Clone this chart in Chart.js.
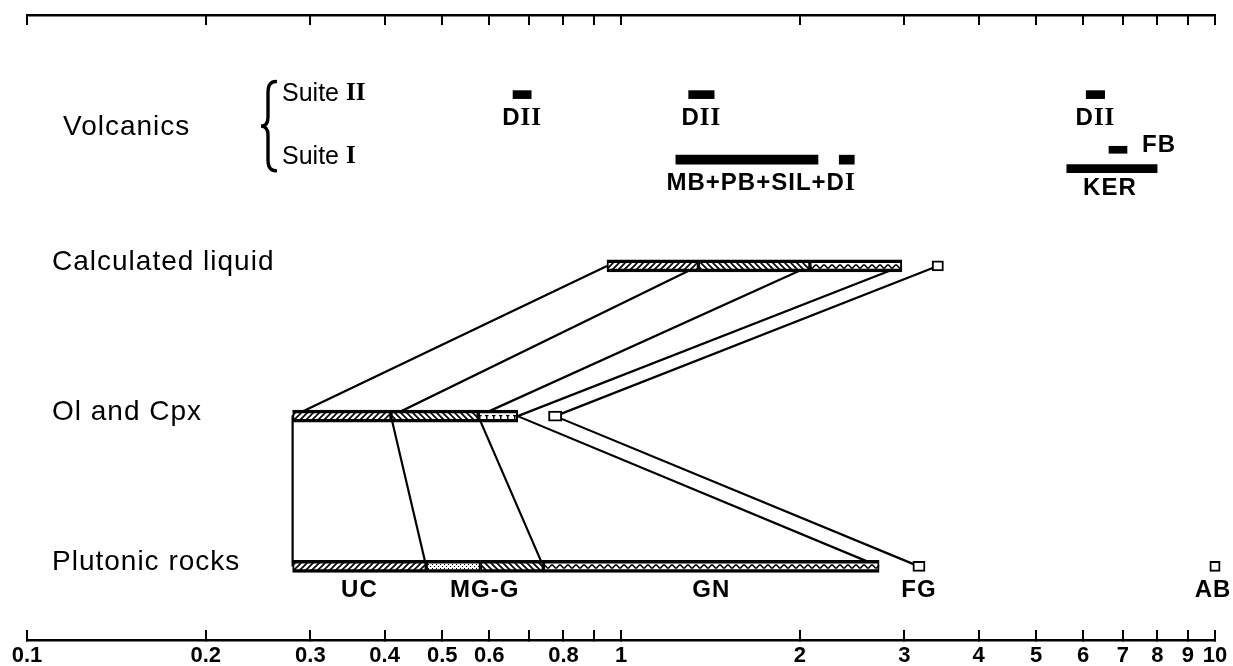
<!DOCTYPE html>
<html>
<head>
<meta charset="utf-8">
<script src="https://cdn.jsdelivr.net/npm/chart.js@4.4.0/dist/chart.umd.min.js"></script>
<style>
  html, body { margin: 0; padding: 0; background: #fff; }
</style>
</head>
<body>
<canvas id="myChart" width="1233" height="666"></canvas>
<script>
// log axis ticks
const tickValues = [0.1, 0.2, 0.3, 0.4, 0.5, 0.6, 0.7, 0.8, 0.9, 1, 2, 3, 4, 5, 6, 7, 8, 9, 10];
const tickLabels = [0.1, 0.2, 0.3, 0.4, 0.5, 0.6, 0.8, 1, 2, 3, 4, 5, 6, 7, 8, 9, 10];

// rows (hidden y scale)
const rowNames = ['Plutonic rocks', 'Ol and Cpx', 'Calculated liquid'];
const rowLevels = [0, 1, 2];
const suiteLevels = [2.707, 3.14];   // Suite I, Suite II
const fbLevel = 2.773;
const kerLevel = 2.647;

// composite bars: segment edges and fills
const liquidEdges = [0.947, 1.35, 2.08, 2.97];
const liquidFills = ['fwd', 'back', 'wave'];
const olcpxEdges = [0.28, 0.41, 0.575, 0.67];
const olcpxFills = ['fwd', 'back', 'dots'];
const plutonicEdges = [0.28, 0.47, 0.58, 0.74, 2.72];
const plutonicFills = ['fwd', 'stip', 'back', 'wave'];
const plutonicLinkIdx = [0, 1, 3, 4];
const plutonicNames = ['UC', 'MG-G', 'GN'];

// open squares
const liquidBox = [3.34, 3.49];
const olcpxBox = [0.755, 0.795];
const fgBox = [3.10, 3.25];
const abBox = [9.8, 10.2];

// volcanics
const suite2Bars = [[0.658, 0.706], [1.30, 1.435], [6.07, 6.52]];
const suite1Bars = [[1.237, 2.146], [2.33, 2.47]];
const fbBar = [6.63, 7.11];
const kerBar = [5.63, 7.99];

const sans = '"Liberation Sans", Arial, sans-serif';
const serif = '"Liberation Serif", "Times New Roman", serif';
const rowFont = '28px ' + sans;
const suiteFont = '25px ' + sans;
const labFont = 'bold 24px ' + sans;
const romFont = 'bold 25px ' + serif;

function makePattern(kind) {
  const c = document.createElement('canvas');
  const g = c.getContext('2d');
  const w = kind === 'wave' ? 8 : (kind === 'dots' ? 7 : (kind === 'stip' ? 4 : 6));
  const h = kind === 'stip' ? 4 : 6;
  c.width = w; c.height = h;
  g.fillStyle = '#fff';
  g.fillRect(0, 0, w, h);
  g.strokeStyle = '#000';
  g.fillStyle = '#000';
  g.lineWidth = 1.6;
  if (kind === 'fwd') {
    g.beginPath();
    g.moveTo(0, 6); g.lineTo(6, 0);
    g.moveTo(-1, 1); g.lineTo(1, -1);
    g.moveTo(5, 7); g.lineTo(7, 5);
    g.stroke();
  } else if (kind === 'back') {
    g.beginPath();
    g.moveTo(0, 0); g.lineTo(6, 6);
    g.moveTo(5, -1); g.lineTo(7, 1);
    g.moveTo(-1, 5); g.lineTo(1, 7);
    g.stroke();
  } else if (kind === 'wave') {
    g.lineWidth = 1.5;
    g.beginPath();
    for (let i = 0; i <= 16; i++) {
      const xx = i / 2;
      const yy = 2.5 - 1.6 * Math.cos(2 * Math.PI * xx / 8);
      if (i === 0) g.moveTo(xx, yy); else g.lineTo(xx, yy);
    }
    g.stroke();
  } else if (kind === 'dots') {
    g.fillRect(3, 1, 1.5, 4);
    g.fillRect(2, 1, 3.5, 1.2);
  } else if (kind === 'stip') {
    g.fillRect(0, 0, 1, 1);
    g.fillRect(2, 2, 1, 1);
  }
  return g.createPattern(c, 'repeat');
}
const patterns = {};
['fwd', 'back', 'wave', 'dots', 'stip'].forEach(k => { patterns[k] = makePattern(k); });

function segments(edges, level) {
  return edges.slice(0, -1).map((v, i) => ({ x: [v, edges[i + 1]], y: level }));
}

const stripStyle = {
  type: 'bar', indexAxis: 'y', grouped: false, barThickness: 12,
  borderColor: '#000', borderWidth: { top: 3.5, bottom: 3.5, left: 2, right: 2 },
  borderSkipped: false, order: 1
};
const solidStyle = {
  type: 'bar', indexAxis: 'y', grouped: false, backgroundColor: '#000',
  borderWidth: 0, order: 1
};

// connector lines between rows
const gmean = b => Math.sqrt(b[0] * b[1]);
const links = liquidEdges.map((v, i) => [
  { x: v, y: rowLevels[2] },
  { x: olcpxEdges[i], y: rowLevels[1] },
  { x: plutonicEdges[plutonicLinkIdx[i]], y: rowLevels[0] }
]);
links.push([
  { x: gmean(liquidBox), y: rowLevels[2] },
  { x: gmean(olcpxBox), y: rowLevels[1] },
  { x: gmean(fgBox), y: rowLevels[0] }
]);

const datasets = [];
links.forEach(pts => datasets.push({
  type: 'line', indexAxis: 'x', data: pts, borderColor: '#000', borderWidth: 2.2,
  pointRadius: 0, tension: 0, fill: false, order: 2
}));
datasets.push(Object.assign({}, stripStyle, {
  data: segments(liquidEdges, rowLevels[2]), backgroundColor: liquidFills.map(f => patterns[f])
}));
datasets.push(Object.assign({}, stripStyle, {
  data: segments(olcpxEdges, rowLevels[1]), backgroundColor: olcpxFills.map(f => patterns[f])
}));
datasets.push(Object.assign({}, stripStyle, {
  data: segments(plutonicEdges, rowLevels[0]), backgroundColor: plutonicFills.map(f => patterns[f])
}));
datasets.push(Object.assign({}, stripStyle, {
  barThickness: 10, borderWidth: 2, backgroundColor: '#fff', clip: false,
  data: [
    { x: liquidBox, y: rowLevels[2] },
    { x: olcpxBox, y: rowLevels[1] },
    { x: fgBox, y: rowLevels[0] },
    { x: abBox, y: rowLevels[0] }
  ]
}));
datasets.push(Object.assign({}, solidStyle, {
  barThickness: 8, data: suite2Bars.map(b => ({ x: b, y: suiteLevels[1] }))
}));
datasets.push(Object.assign({}, solidStyle, {
  barThickness: 9, data: suite1Bars.map(b => ({ x: b, y: suiteLevels[0] }))
}));
datasets.push(Object.assign({}, solidStyle, {
  barThickness: 7, data: [{ x: fbBar, y: fbLevel }]
}));
datasets.push(Object.assign({}, solidStyle, {
  barThickness: 8, data: [{ x: kerBar, y: kerLevel }]
}));

function drawParts(ctx, parts, x, y, align) {
  let w = 0;
  parts.forEach(p => { ctx.font = p[1]; w += ctx.measureText(p[0]).width; });
  let cx = align === 'center' ? x - w / 2 : (align === 'right' ? x - w : x);
  parts.forEach(p => {
    ctx.font = p[1];
    ctx.fillText(p[0], cx, y);
    cx += ctx.measureText(p[0]).width;
  });
}

const labelPlugin = {
  id: 'labels',
  afterDraw(chart) {
    const ctx = chart.ctx;
    const area = chart.chartArea;
    const xs = chart.scales.x, ys = chart.scales.y;
    const px = v => xs.getPixelForValue(v);
    const py = v => ys.getPixelForValue(v);
    const mid = (a, b) => (px(a) + px(b)) / 2;
    ctx.save();
    ctx.fillStyle = '#000';
    ctx.strokeStyle = '#000';
    ctx.textAlign = 'left';
    ctx.textBaseline = 'middle';

    ctx.letterSpacing = '1px';
    rowNames.forEach((n, i) => drawParts(ctx, [[n, rowFont]], area.left + 25, py(rowLevels[i]) - 4, 'left'));
    const vy = (py(suiteLevels[0]) + py(suiteLevels[1])) / 2;
    drawParts(ctx, [['Volcanics', rowFont]], area.left + 36, vy, 'left');

    // brace
    const bx = 268, top = py(suiteLevels[1]) - 14, bot = py(suiteLevels[0]) + 12, my = (top + bot) / 2;
    ctx.lineWidth = 3.4;
    ctx.beginPath();
    ctx.moveTo(bx + 9, top + 1);
    ctx.quadraticCurveTo(bx, top, bx, top + 12);
    ctx.lineTo(bx, my - 9);
    ctx.quadraticCurveTo(bx, my, bx - 7, my);
    ctx.quadraticCurveTo(bx, my, bx, my + 9);
    ctx.lineTo(bx, bot - 12);
    ctx.quadraticCurveTo(bx, bot, bx + 9, bot - 1);
    ctx.stroke();

    ctx.letterSpacing = '0px';
    drawParts(ctx, [['Suite ', suiteFont], ['II', romFont]], 282, py(suiteLevels[1]) - 1, 'left');
    drawParts(ctx, [['Suite ', suiteFont], ['I', romFont]], 282, py(suiteLevels[0]) - 3, 'left');

    ctx.letterSpacing = '1px';
    suite2Bars.forEach(b => drawParts(ctx, [['D', labFont], ['II', romFont]], mid(b[0], b[1]), py(suiteLevels[1]) + 24, 'center'));
    const s1c = (px(suite1Bars[0][0]) + px(suite1Bars[1][1])) / 2 - 4;
    drawParts(ctx, [['MB+PB+SIL+D', labFont], ['I', romFont]], s1c, py(suiteLevels[0]) + 24, 'center');
    drawParts(ctx, [['FB', labFont]], px(fbBar[1]) + 15, py(fbLevel) - 4, 'left');
    drawParts(ctx, [['KER', labFont]], mid(kerBar[0], kerBar[1]) - 2, py(kerLevel) + 20, 'center');

    plutonicNames.forEach((n, i) => {
      const a = plutonicEdges[plutonicLinkIdx[i]], b = plutonicEdges[plutonicLinkIdx[i + 1]];
      drawParts(ctx, [[n, labFont]], mid(a, b), py(rowLevels[0]) + 24, 'center');
    });
    drawParts(ctx, [['FG', labFont]], mid(fgBox[0], fgBox[1]), py(rowLevels[0]) + 24, 'center');
    drawParts(ctx, [['AB', labFont]], Math.min(mid(abBox[0], abBox[1]), chart.width - 20), py(rowLevels[0]) + 24, 'center');
    ctx.restore();
  }
};

const axisCommon = {
  type: 'logarithmic', min: 0.1, max: 10, offset: false,
  afterBuildTicks: scale => { scale.ticks = tickValues.map(v => ({ value: v })); },
  grid: { offset: false, drawOnChartArea: false, drawTicks: true, tickLength: -10, color: '#000', lineWidth: 2 },
  border: { display: true, color: '#000', width: 2.5 }
};

let myChart = document.getElementById('myChart').getContext('2d');

let logChart = new Chart(myChart, {
  type: 'bar',
  data: { datasets: datasets },
  options: {
    responsive: false,
    animation: false,
    events: [],
    layout: { padding: { left: 27, right: 18, top: 15, bottom: 0 } },
    plugins: { legend: { display: false }, tooltip: { enabled: false } },
    scales: {
      x: Object.assign({}, axisCommon, {
        position: 'bottom',
        afterFit: scale => { scale.height = 26; scale.paddingLeft = 0; scale.paddingRight = 0; },
        ticks: {
          autoSkip: false, maxRotation: 0, padding: 13, color: '#000',
          font: { family: sans, size: 22, weight: 'bold' },
          callback: v => tickLabels.includes(v) ? String(v) : ''
        }
      }),
      x2: Object.assign({}, axisCommon, {
        position: 'top',
        afterFit: scale => { scale.height = 0; scale.paddingLeft = 0; scale.paddingRight = 0; },
        ticks: { display: false }
      }),
      y: { type: 'linear', min: -0.49, max: 3.67, offset: false, display: false, grid: { offset: false } }
    }
  },
  plugins: [labelPlugin]
});
</script>
</body>
</html>
